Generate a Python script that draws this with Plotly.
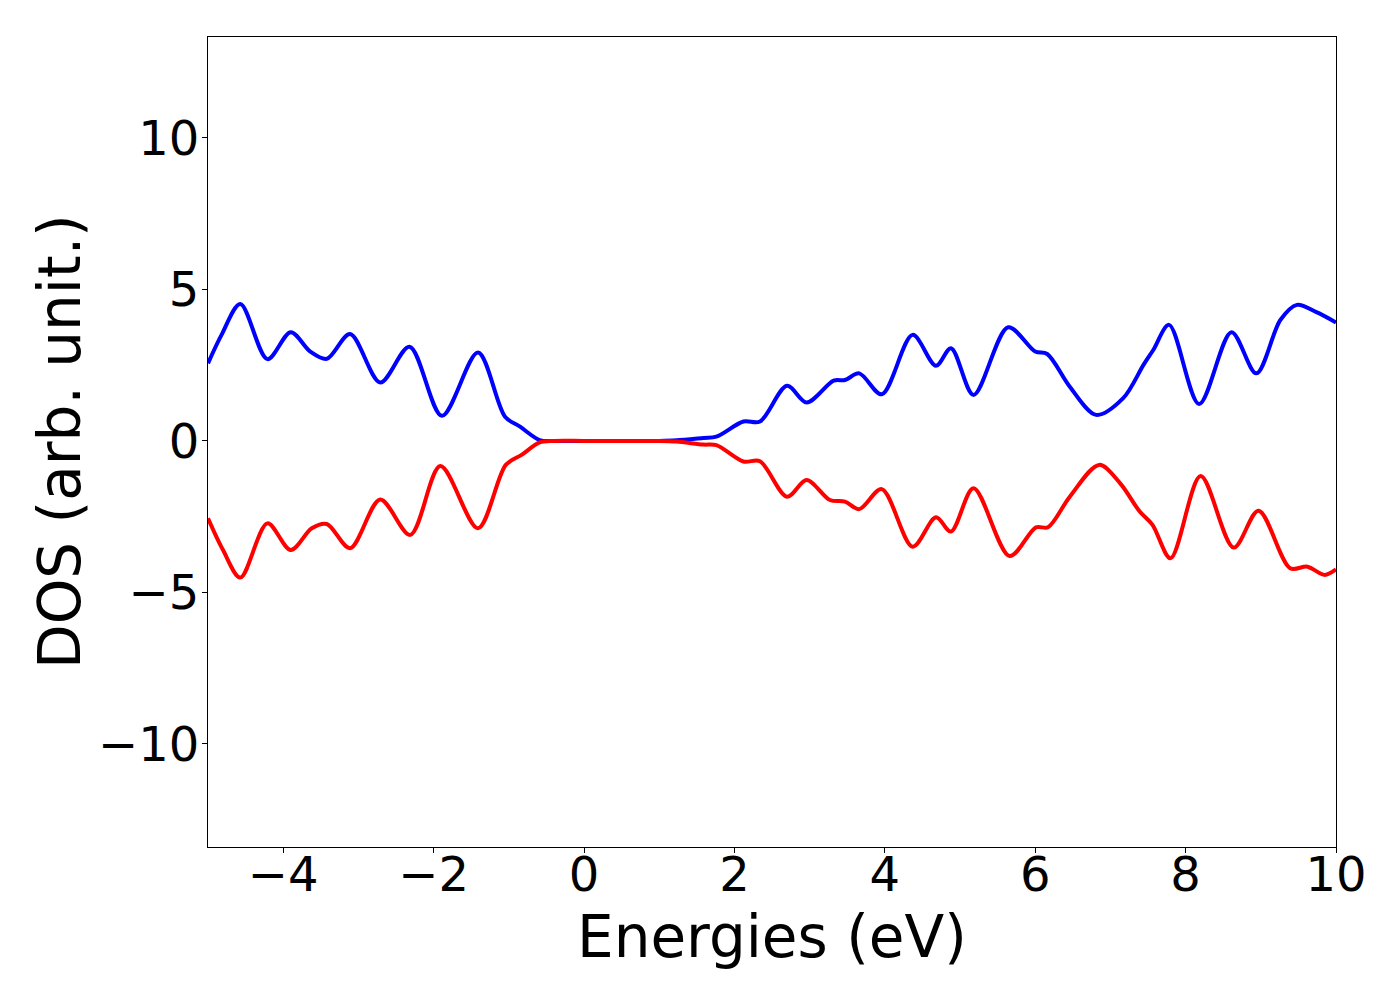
import plotly.graph_objects as go

# spin up DOS (blue)
energy_up = [-5.0, -4.82, -4.57, -4.21, -3.90, -3.64, -3.42, -3.11, -2.71, -2.32,
             -1.89, -1.41, -1.05, -0.85, -0.59, -0.4, 0.0, 0.5, 1.0, 1.23,
             1.59, 1.76, 2.12, 2.34, 2.70, 2.96, 3.32, 3.47, 3.66, 3.96,
             4.37, 4.68, 4.88, 5.18, 5.64, 6.00, 6.16, 6.46, 6.81, 7.17,
             7.44, 7.57, 7.78, 8.18, 8.61, 8.94, 9.26, 9.48, 9.74, 10.0]
dos_up = [2.56, 3.50, 4.52, 2.70, 3.59, 2.95, 2.71, 3.53, 1.93, 3.11,
          0.83, 2.92, 0.80, 0.47, 0.03, 0.0, 0.0, 0.0, 0.0, 0.02,
          0.10, 0.14, 0.64, 0.64, 1.82, 1.27, 1.99, 2.01, 2.23, 1.54,
          3.50, 2.48, 3.06, 1.52, 3.75, 2.95, 2.87, 1.79, 0.86, 1.41,
          2.51, 3.00, 3.83, 1.22, 3.59, 2.23, 3.99, 4.49, 4.25, 3.91]

# spin down DOS (red)
energy_down = [-5.0, -4.80, -4.57, -4.21, -3.90, -3.62, -3.42, -3.11, -2.71, -2.31,
               -1.91, -1.41, -1.04, -0.83, -0.59, -0.4, 0.0, 0.5, 1.0, 1.23,
               1.59, 1.76, 2.12, 2.34, 2.70, 2.96, 3.27, 3.47, 3.66, 3.96,
               4.37, 4.68, 4.88, 5.18, 5.66, 6.01, 6.17, 6.46, 6.85, 7.13,
               7.39, 7.56, 7.80, 8.20, 8.64, 8.97, 9.39, 9.62, 9.85, 10.0]
dos_down = [-2.55, -3.60, -4.51, -2.72, -3.60, -2.88, -2.74, -3.54, -1.93, -3.10,
            -0.83, -2.88, -0.79, -0.46, -0.05, 0.0, 0.0, 0.0, 0.0, -0.02,
            -0.12, -0.14, -0.68, -0.67, -1.84, -1.29, -1.95, -2.00, -2.25, -1.59,
            -3.49, -2.52, -2.99, -1.56, -3.80, -2.85, -2.85, -1.84, -0.79, -1.40,
            -2.33, -2.77, -3.87, -1.16, -3.52, -2.30, -4.20, -4.15, -4.42, -4.24]

x_ticks = [-4, -2, 0, 2, 4, 6, 8, 10]
y_ticks = [-10, -5, 0, 5, 10]

fig = go.Figure()

fig.add_trace(go.Scatter(
    x=energy_up, y=dos_up, mode='lines',
    line=dict(color='#0000ff', width=4, shape='spline', smoothing=0.9),
    showlegend=False
))
fig.add_trace(go.Scatter(
    x=energy_down, y=dos_down, mode='lines',
    line=dict(color='#ff0000', width=4, shape='spline', smoothing=0.9),
    showlegend=False
))

axis_style = dict(
    showgrid=False, zeroline=False,
    showline=True, linecolor='black', linewidth=1.2, mirror=True,
    ticks='outside', ticklen=5, tickwidth=1.2, tickcolor='black',
    tickfont=dict(family='DejaVu Sans', size=48, color='black'),
)

title_font = dict(family='DejaVu Sans', size=58, color='black')

# axis titles as annotations so they sit where the reference has them
fig.add_annotation(
    text='Energies (eV)', xref='paper', yref='paper', x=0.5, y=0,
    xanchor='center', yanchor='middle', yshift=-90,
    showarrow=False, font=title_font
)
fig.add_annotation(
    text='DOS (arb. unit.)', xref='paper', yref='paper', x=0, y=0.5,
    xanchor='center', yanchor='middle', xshift=-148, textangle=-90,
    showarrow=False, font=title_font
)

fig.update_layout(
    width=1400, height=1000,
    plot_bgcolor='white', paper_bgcolor='white',
    margin=dict(l=200, r=72, t=29, b=161),
    xaxis=dict(
        range=[-5, 10], tickvals=x_ticks,
        ticktext=[str(t).replace('-', '\u2212') for t in x_ticks],
        ticklabelstandoff=-20,
        **axis_style
    ),
    yaxis=dict(
        range=[-13.4, 13.33], tickvals=y_ticks,
        ticktext=[str(t).replace('-', '\u2212') for t in y_ticks],
        ticklabelstandoff=-7,
        **axis_style
    ),
)

fig.write_html("out.html")
